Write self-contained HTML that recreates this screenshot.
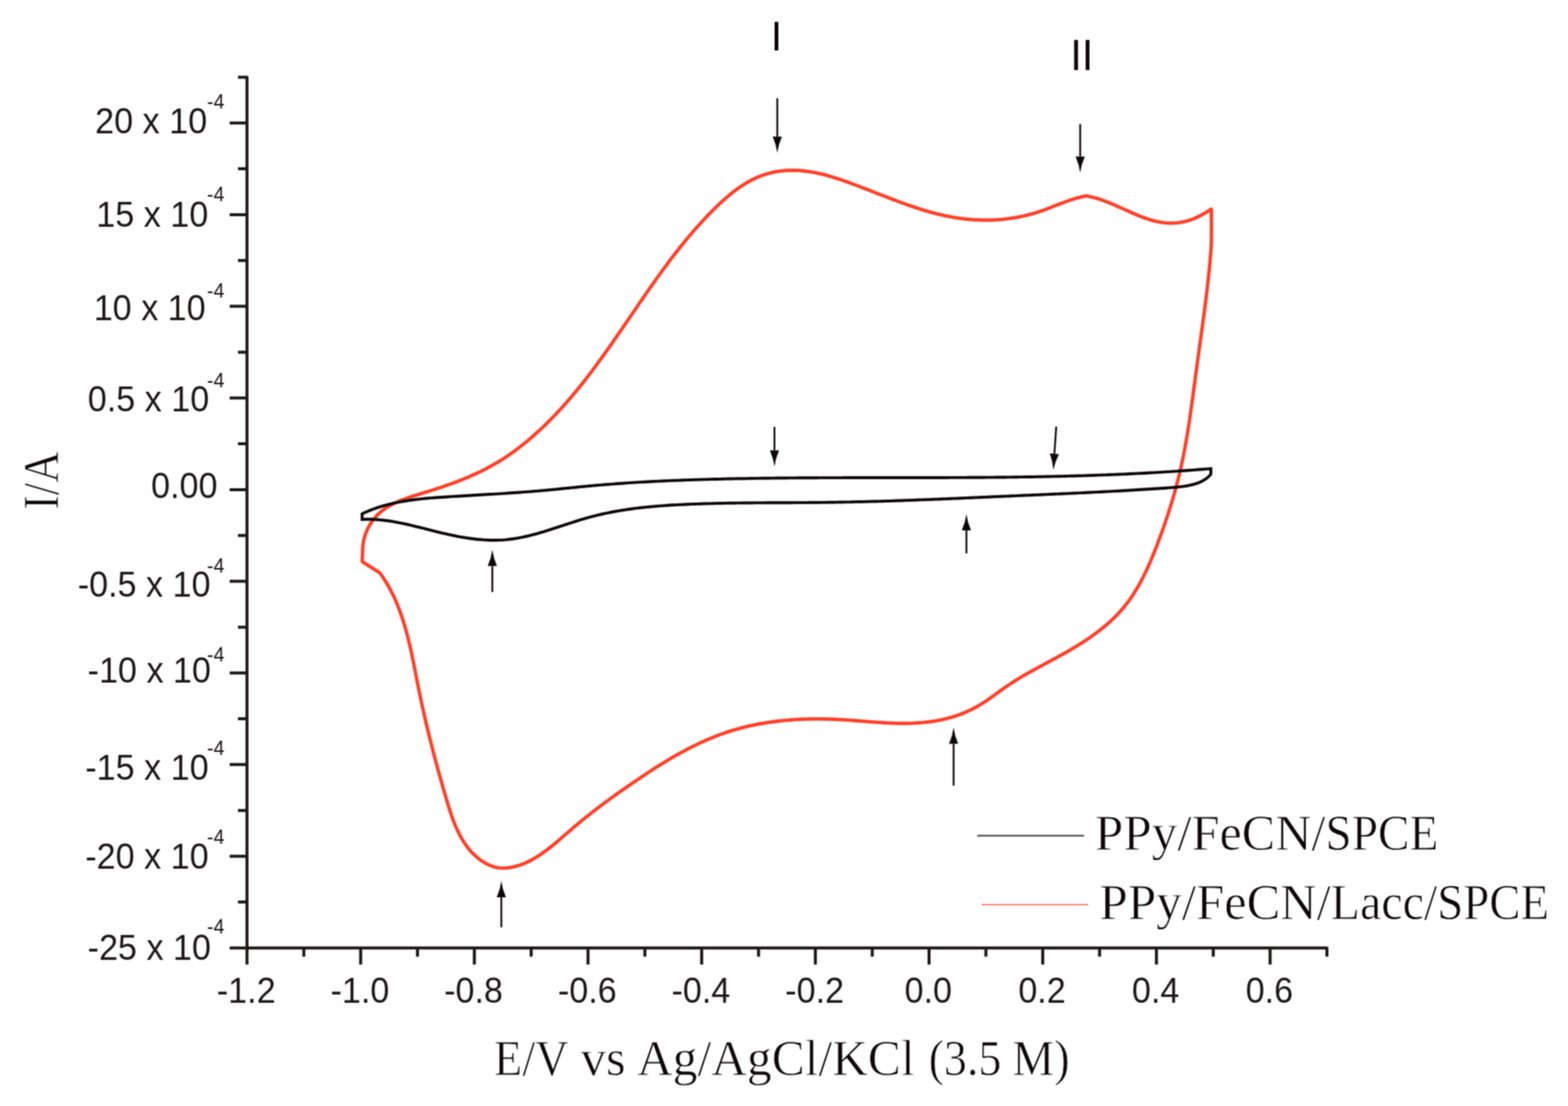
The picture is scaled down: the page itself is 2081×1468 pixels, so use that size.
<!DOCTYPE html>
<html lang="en">
<head>
<meta charset="utf-8">
<title>Cyclic voltammograms</title>
<style>
html,body{margin:0;padding:0;background:#fff;}
body{width:2081px;height:1468px;overflow:hidden;}
svg{display:block;}
</style>
</head>
<body>
<svg width="2081" height="1468" viewBox="0 0 2081 1468">
<defs><filter id="soft" x="0" y="0" width="2081" height="1468" filterUnits="userSpaceOnUse" color-interpolation-filters="sRGB"><feConvolveMatrix order="3" kernelMatrix="1 2 1 2 4 2 1 2 1" divisor="16" edgeMode="duplicate" preserveAlpha="true"/></filter></defs>
<rect x="0" y="0" width="2081" height="1468" fill="#ffffff"/>
<g filter="url(#soft)">
<rect x="0" y="0" width="2081" height="1468" fill="#ffffff"/>
<path d="M503.70,760.00 L506.07,763.26 L508.35,766.56 L510.55,769.90 L512.67,773.28 L514.71,776.71 L516.67,780.17 L518.56,783.67 L520.38,787.20 L522.13,790.77 L523.81,794.38 L525.42,798.01 L526.98,801.67 L528.48,805.37 L529.91,809.09 L531.30,812.84 L532.63,816.61 L533.91,820.41 L535.14,824.22 L536.33,828.06 L537.47,831.92 L538.57,835.80 L539.64,839.69 L540.67,843.60 L541.66,847.52 L542.63,851.45 L543.56,855.40 L544.47,859.35 L545.36,863.31 L546.22,867.28 L547.07,871.26 L547.89,875.24 L548.71,879.22 L549.51,883.20 L550.30,887.19 L551.08,891.17 L551.86,895.15 L552.64,899.13 L553.41,903.10 L554.19,907.06 L554.97,911.01 L555.76,914.96 L556.56,918.89 L557.37,922.82 L558.19,926.73 L559.01,930.63 L559.85,934.53 L560.70,938.42 L561.55,942.30 L562.42,946.17 L563.29,950.04 L564.18,953.90 L565.07,957.76 L565.98,961.61 L566.89,965.46 L567.81,969.30 L568.75,973.15 L569.69,976.99 L570.64,980.83 L571.60,984.67 L572.58,988.51 L573.56,992.36 L574.55,996.20 L575.55,1000.05 L576.56,1003.89 L577.58,1007.75 L578.61,1011.60 L579.65,1015.46 L580.70,1019.33 L581.76,1023.20 L582.83,1027.08 L583.91,1030.97 L585.00,1034.87 L586.10,1038.77 L587.21,1042.68 L588.33,1046.60 L589.46,1050.54 L590.60,1054.48 L591.75,1058.44 L592.91,1062.40 L594.09,1066.37 L595.30,1070.33 L596.55,1074.28 L597.83,1078.21 L599.15,1082.12 L600.52,1086.00 L601.96,1089.84 L603.45,1093.64 L605.01,1097.40 L606.65,1101.09 L608.37,1104.73 L610.18,1108.30 L612.07,1111.79 L614.07,1115.21 L616.18,1118.54 L618.39,1121.77 L620.72,1124.91 L623.18,1127.95 L625.76,1130.87 L628.49,1133.67 L631.35,1136.35 L634.36,1138.90 L637.52,1141.31 L640.85,1143.58 L644.31,1145.67 L647.90,1147.53 L651.60,1149.14 L655.39,1150.46 L659.26,1151.43 L663.18,1152.04 L667.13,1152.27 L671.10,1152.16 L675.05,1151.77 L678.97,1151.14 L682.82,1150.31 L686.61,1149.30 L690.34,1148.11 L694.01,1146.77 L697.62,1145.27 L701.18,1143.62 L704.70,1141.85 L708.16,1139.94 L711.58,1137.92 L714.96,1135.79 L718.31,1133.56 L721.61,1131.24 L724.89,1128.84 L728.13,1126.37 L731.35,1123.84 L734.55,1121.25 L737.72,1118.62 L740.88,1115.96 L744.02,1113.27 L747.15,1110.56 L750.27,1107.84 L753.38,1105.13 L756.49,1102.43 L759.60,1099.74 L762.71,1097.09 L765.83,1094.46 L768.95,1091.86 L772.07,1089.29 L775.19,1086.75 L778.32,1084.23 L781.46,1081.73 L784.60,1079.26 L787.74,1076.81 L790.90,1074.38 L794.06,1071.96 L797.22,1069.57 L800.39,1067.19 L803.57,1064.83 L806.76,1062.48 L809.96,1060.15 L813.16,1057.83 L816.37,1055.52 L819.59,1053.22 L822.83,1050.93 L826.07,1048.64 L829.32,1046.37 L832.59,1044.09 L835.86,1041.83 L839.15,1039.56 L842.44,1037.30 L845.76,1035.05 L849.08,1032.80 L852.41,1030.56 L855.76,1028.33 L859.12,1026.11 L862.50,1023.90 L865.88,1021.71 L869.28,1019.52 L872.70,1017.36 L876.13,1015.21 L879.57,1013.09 L883.03,1010.98 L886.50,1008.89 L889.99,1006.83 L893.49,1004.79 L897.01,1002.77 L900.54,1000.79 L904.09,998.83 L907.65,996.90 L911.23,995.01 L914.82,993.14 L918.42,991.31 L922.04,989.52 L925.68,987.76 L929.33,986.04 L932.99,984.36 L936.67,982.72 L940.36,981.13 L944.07,979.57 L947.79,978.07 L951.53,976.61 L955.28,975.19 L959.05,973.83 L962.83,972.52 L966.62,971.26 L970.43,970.05 L974.26,968.89 L978.09,967.78 L981.94,966.72 L985.80,965.71 L989.68,964.75 L993.56,963.83 L997.46,962.96 L1001.36,962.14 L1005.28,961.36 L1009.21,960.63 L1013.14,959.94 L1017.08,959.29 L1021.04,958.69 L1025.00,958.13 L1028.96,957.60 L1032.94,957.12 L1036.92,956.68 L1040.90,956.28 L1044.89,955.92 L1048.89,955.60 L1052.89,955.31 L1056.90,955.06 L1060.90,954.85 L1064.92,954.67 L1068.93,954.52 L1072.95,954.41 L1076.97,954.33 L1080.99,954.29 L1085.01,954.28 L1089.03,954.30 L1093.05,954.34 L1097.07,954.42 L1101.09,954.53 L1105.11,954.67 L1109.13,954.84 L1113.14,955.03 L1117.15,955.25 L1121.16,955.49 L1125.17,955.76 L1129.17,956.04 L1133.18,956.34 L1137.18,956.65 L1141.18,956.97 L1145.18,957.29 L1149.18,957.61 L1153.18,957.92 L1157.18,958.23 L1161.18,958.53 L1165.19,958.81 L1169.19,959.08 L1173.20,959.33 L1177.22,959.55 L1181.23,959.74 L1185.25,959.90 L1189.27,960.02 L1193.30,960.10 L1197.33,960.14 L1201.37,960.14 L1205.40,960.09 L1209.43,959.98 L1213.46,959.82 L1217.48,959.61 L1221.50,959.33 L1225.51,958.99 L1229.51,958.58 L1233.50,958.11 L1237.47,957.56 L1241.43,956.93 L1245.38,956.23 L1249.30,955.45 L1253.21,954.58 L1257.10,953.62 L1260.96,952.58 L1264.80,951.44 L1268.61,950.22 L1272.39,948.90 L1276.14,947.49 L1279.86,946.00 L1283.54,944.41 L1287.18,942.74 L1290.78,940.97 L1294.34,939.12 L1297.85,937.18 L1301.32,935.14 L1304.74,933.02 L1308.11,930.82 L1311.44,928.55 L1314.74,926.23 L1318.02,923.87 L1321.29,921.49 L1324.55,919.10 L1327.82,916.73 L1331.10,914.37 L1334.40,912.06 L1337.72,909.79 L1341.07,907.57 L1344.44,905.40 L1347.83,903.26 L1351.25,901.16 L1354.68,899.10 L1358.13,897.07 L1361.59,895.06 L1365.07,893.08 L1368.56,891.12 L1372.06,889.18 L1375.57,887.25 L1379.08,885.34 L1382.61,883.43 L1386.13,881.53 L1389.66,879.63 L1393.19,877.74 L1396.72,875.83 L1400.25,873.92 L1403.78,872.00 L1407.30,870.07 L1410.81,868.12 L1414.31,866.15 L1417.81,864.16 L1421.29,862.14 L1424.76,860.10 L1428.22,858.02 L1431.66,855.90 L1435.08,853.75 L1438.47,851.57 L1441.84,849.34 L1445.19,847.08 L1448.50,844.78 L1451.78,842.43 L1455.03,840.04 L1458.24,837.61 L1461.40,835.13 L1464.52,832.61 L1467.60,830.04 L1470.62,827.42 L1473.60,824.75 L1476.51,822.03 L1479.38,819.25 L1482.18,816.42 L1484.92,813.54 L1487.59,810.60 L1490.19,807.60 L1492.73,804.55 L1495.19,801.43 L1497.58,798.26 L1499.90,795.04 L1502.16,791.76 L1504.36,788.44 L1506.49,785.06 L1508.57,781.65 L1510.59,778.19 L1512.55,774.69 L1514.47,771.15 L1516.33,767.59 L1518.15,763.99 L1519.92,760.36 L1521.65,756.70 L1523.35,753.02 L1525.00,749.32 L1526.62,745.59 L1528.20,741.86 L1529.76,738.10 L1531.29,734.34 L1532.79,730.56 L1534.26,726.78 L1535.72,723.00 L1537.16,719.21 L1538.58,715.42 L1539.98,711.63 L1541.37,707.84 L1542.73,704.05 L1544.08,700.26 L1545.41,696.47 L1546.72,692.67 L1548.00,688.87 L1549.27,685.07 L1550.52,681.26 L1551.75,677.46 L1552.96,673.64 L1554.14,669.83 L1555.30,666.01 L1556.45,662.18 L1557.56,658.35 L1558.66,654.51 L1559.73,650.67 L1560.78,646.82 L1561.81,642.97 L1562.81,639.10 L1563.79,635.23 L1564.74,631.36 L1565.67,627.47 L1566.57,623.58 L1567.45,619.68 L1568.30,615.78 L1569.14,611.86 L1569.95,607.94 L1570.74,604.01 L1571.50,600.08 L1572.25,596.14 L1572.98,592.20 L1573.70,588.25 L1574.39,584.29 L1575.07,580.33 L1575.74,576.37 L1576.39,572.40 L1577.02,568.43 L1577.64,564.45 L1578.26,560.48 L1578.86,556.49 L1579.44,552.51 L1580.02,548.52 L1580.59,544.53 L1581.16,540.54 L1581.71,536.55 L1582.26,532.56 L1582.80,528.56 L1583.34,524.57 L1583.87,520.57 L1584.40,516.57 L1584.93,512.58 L1585.46,508.58 L1585.98,504.59 L1586.51,500.60 L1587.04,496.60 L1587.57,492.61 L1588.10,488.62 L1588.63,484.64 L1589.17,480.65 L1589.71,476.67 L1590.25,472.69 L1590.80,468.71 L1591.35,464.74 L1591.90,460.76 L1592.45,456.79 L1593.00,452.82 L1593.55,448.85 L1594.10,444.88 L1594.65,440.91 L1595.20,436.94 L1595.74,432.97 L1596.28,429.01 L1596.82,425.04 L1597.36,421.07 L1597.89,417.10 L1598.41,413.13 L1598.93,409.16 L1599.44,405.19 L1599.95,401.22 L1600.45,397.24 L1600.94,393.27 L1601.42,389.29 L1601.90,385.31 L1602.36,381.33 L1602.82,377.35 L1603.26,373.37 L1603.70,369.38 L1604.12,365.39 L1604.53,361.40 L1604.93,357.40 L1605.31,353.40 L1605.69,349.40 L1606.04,345.39 L1606.39,341.38 L1606.71,337.37 L1607.03,333.35 L1607.32,329.33 L1607.60,325.30 L1607.8,300 L1607.6,277.5 L1604.16,279.80 L1600.64,282.01 L1597.04,284.11 L1593.39,286.09 L1589.66,287.93 L1585.89,289.62 L1582.05,291.14 L1578.18,292.49 L1574.26,293.63 L1570.30,294.57 L1566.31,295.28 L1562.29,295.77 L1558.25,296.05 L1554.21,296.12 L1550.16,295.99 L1546.12,295.68 L1542.10,295.18 L1538.10,294.51 L1534.12,293.69 L1530.18,292.71 L1526.26,291.60 L1522.36,290.36 L1518.48,289.02 L1514.63,287.59 L1510.78,286.07 L1506.95,284.48 L1503.14,282.84 L1499.33,281.16 L1495.52,279.45 L1491.72,277.72 L1487.92,276.00 L1484.12,274.29 L1480.31,272.60 L1476.50,270.95 L1472.68,269.36 L1468.85,267.83 L1465.00,266.38 L1461.14,265.02 L1457.26,263.77 L1453.36,262.64 L1449.43,261.64 L1445.48,260.79 L1441.50,260.10 L1437.55,260.84 L1433.64,261.72 L1429.75,262.73 L1425.90,263.84 L1422.08,265.04 L1418.27,266.33 L1414.49,267.68 L1410.72,269.08 L1406.95,270.52 L1403.20,271.98 L1399.45,273.46 L1395.70,274.93 L1391.94,276.38 L1388.18,277.79 L1384.40,279.16 L1380.61,280.47 L1376.80,281.71 L1372.98,282.89 L1369.14,283.99 L1365.28,285.02 L1361.40,285.98 L1357.52,286.88 L1353.61,287.70 L1349.70,288.45 L1345.77,289.14 L1341.82,289.75 L1337.87,290.30 L1333.90,290.77 L1329.92,291.18 L1325.94,291.51 L1321.94,291.78 L1317.93,291.97 L1313.91,292.10 L1309.88,292.15 L1305.85,292.14 L1301.82,292.06 L1297.79,291.92 L1293.75,291.71 L1289.72,291.44 L1285.69,291.10 L1281.67,290.70 L1277.65,290.24 L1273.64,289.72 L1269.65,289.14 L1265.66,288.50 L1261.69,287.81 L1257.73,287.05 L1253.79,286.24 L1249.87,285.37 L1245.96,284.46 L1242.07,283.49 L1238.20,282.48 L1234.34,281.42 L1230.49,280.32 L1226.66,279.18 L1222.84,278.00 L1219.03,276.79 L1215.22,275.55 L1211.43,274.27 L1207.65,272.97 L1203.88,271.65 L1200.11,270.30 L1196.35,268.93 L1192.59,267.55 L1188.84,266.15 L1185.10,264.73 L1181.35,263.31 L1177.61,261.87 L1173.87,260.43 L1170.13,258.98 L1166.40,257.53 L1162.66,256.07 L1158.92,254.61 L1155.17,253.15 L1151.43,251.70 L1147.68,250.25 L1143.92,248.81 L1140.16,247.38 L1136.39,245.95 L1132.62,244.54 L1128.83,243.14 L1125.04,241.77 L1121.24,240.41 L1117.43,239.08 L1113.61,237.79 L1109.77,236.54 L1105.93,235.33 L1102.07,234.18 L1098.20,233.08 L1094.31,232.04 L1090.41,231.06 L1086.50,230.16 L1082.57,229.33 L1078.62,228.58 L1074.65,227.92 L1070.67,227.36 L1066.67,226.89 L1062.65,226.52 L1058.62,226.26 L1054.59,226.11 L1050.55,226.08 L1046.52,226.16 L1042.51,226.37 L1038.50,226.71 L1034.52,227.18 L1030.56,227.79 L1026.64,228.53 L1022.75,229.43 L1018.90,230.46 L1015.09,231.63 L1011.33,232.94 L1007.62,234.37 L1003.95,235.93 L1000.34,237.61 L996.79,239.39 L993.29,241.29 L989.84,243.29 L986.45,245.39 L983.11,247.58 L979.81,249.85 L976.57,252.21 L973.37,254.64 L970.21,257.13 L967.10,259.70 L964.02,262.32 L960.98,264.99 L957.98,267.71 L955.01,270.47 L952.07,273.26 L949.17,276.09 L946.29,278.94 L943.44,281.81 L940.61,284.70 L937.82,287.61 L935.04,290.54 L932.30,293.49 L929.57,296.46 L926.87,299.44 L924.19,302.45 L921.54,305.47 L918.90,308.51 L916.29,311.56 L913.70,314.63 L911.13,317.71 L908.57,320.81 L906.04,323.93 L903.52,327.05 L901.02,330.20 L898.54,333.35 L896.07,336.52 L893.62,339.69 L891.18,342.88 L888.76,346.08 L886.35,349.29 L883.96,352.52 L881.57,355.75 L879.20,358.99 L876.84,362.23 L874.49,365.49 L872.15,368.75 L869.82,372.03 L867.50,375.30 L865.19,378.59 L862.89,381.88 L860.59,385.17 L858.29,388.47 L856.01,391.78 L853.73,395.09 L851.45,398.40 L849.18,401.71 L846.91,405.03 L844.64,408.35 L842.38,411.67 L840.11,414.99 L837.85,418.31 L835.59,421.63 L833.33,424.95 L831.06,428.28 L828.80,431.59 L826.53,434.91 L824.26,438.23 L821.98,441.54 L819.71,444.85 L817.42,448.15 L815.14,451.46 L812.84,454.75 L810.54,458.04 L808.23,461.33 L805.92,464.61 L803.60,467.88 L801.26,471.15 L798.92,474.41 L796.57,477.66 L794.21,480.90 L791.83,484.13 L789.44,487.35 L787.05,490.57 L784.63,493.77 L782.21,496.96 L779.77,500.14 L777.31,503.31 L774.84,506.47 L772.35,509.61 L769.85,512.74 L767.32,515.86 L764.78,518.96 L762.23,522.05 L759.65,525.13 L757.05,528.18 L754.43,531.23 L751.79,534.25 L749.13,537.26 L746.44,540.25 L743.74,543.22 L741.01,546.18 L738.25,549.11 L735.47,552.03 L732.66,554.92 L729.83,557.80 L726.97,560.65 L724.09,563.49 L721.18,566.29 L718.24,569.08 L715.27,571.84 L712.28,574.57 L709.26,577.27 L706.22,579.94 L703.15,582.58 L700.05,585.18 L696.93,587.75 L693.78,590.28 L690.61,592.78 L687.41,595.24 L684.18,597.65 L680.93,600.02 L677.66,602.35 L674.36,604.64 L671.03,606.88 L667.68,609.07 L664.30,611.21 L660.90,613.30 L657.47,615.34 L654.02,617.32 L650.54,619.25 L647.04,621.14 L643.52,622.97 L639.97,624.76 L636.40,626.50 L632.81,628.20 L629.20,629.85 L625.57,631.47 L621.91,633.05 L618.24,634.59 L614.54,636.10 L610.83,637.57 L607.10,639.02 L603.35,640.43 L599.58,641.81 L595.80,643.17 L592.00,644.51 L588.18,645.82 L584.35,647.11 L580.50,648.39 L576.64,649.64 L572.76,650.88 L568.87,652.11 L564.96,653.32 L561.05,654.52 L557.12,655.72 L553.20,656.93 L549.29,658.16 L545.40,659.42 L541.54,660.72 L537.72,662.07 L533.94,663.49 L530.22,664.98 L526.57,666.56 L522.99,668.23 L519.49,670.02 L516.09,671.93 L512.79,673.96 L509.60,676.14 L506.53,678.48 L503.59,680.98 L500.79,683.65 L498.13,686.51 L495.63,689.53 L493.30,692.71 L491.14,696.05 L489.17,699.53 L487.39,703.13 L485.82,706.86 L484.46,710.70 L483.33,714.63 L482.42,718.66 L481.76,722.78 L481.35,726.96 L481.20,731.20 L480.80,745.50 L503.70,760.00 Z" fill="none" stroke="#ff4029" stroke-width="4.6" stroke-linejoin="round" stroke-linecap="butt"/>
<path d="M480.60,682.00 L484.27,680.29 L487.96,678.68 L491.68,677.16 L495.42,675.73 L499.19,674.39 L502.98,673.13 L506.78,671.95 L510.61,670.85 L514.46,669.82 L518.32,668.86 L522.21,667.97 L526.10,667.13 L530.01,666.36 L533.94,665.64 L537.88,664.98 L541.83,664.36 L545.79,663.79 L549.77,663.26 L553.75,662.78 L557.74,662.33 L561.74,661.91 L565.75,661.53 L569.76,661.17 L573.78,660.84 L577.80,660.53 L581.82,660.23 L585.85,659.95 L589.88,659.69 L593.91,659.43 L597.95,659.17 L601.98,658.92 L606.01,658.68 L610.04,658.43 L614.07,658.19 L618.10,657.96 L622.13,657.72 L626.16,657.49 L630.19,657.25 L634.22,657.02 L638.24,656.78 L642.27,656.55 L646.30,656.31 L650.33,656.07 L654.35,655.83 L658.38,655.59 L662.40,655.34 L666.42,655.09 L670.45,654.83 L674.47,654.57 L678.49,654.31 L682.51,654.04 L686.53,653.76 L690.55,653.47 L694.56,653.18 L698.58,652.88 L702.59,652.57 L706.61,652.25 L710.62,651.93 L714.63,651.59 L718.64,651.24 L722.65,650.88 L726.66,650.52 L730.66,650.14 L734.67,649.75 L738.67,649.36 L742.67,648.96 L746.68,648.56 L750.68,648.16 L754.68,647.76 L758.68,647.35 L762.68,646.95 L766.69,646.55 L770.69,646.15 L774.69,645.76 L778.69,645.38 L782.70,645.00 L786.70,644.64 L790.71,644.28 L794.71,643.93 L798.72,643.59 L802.72,643.26 L806.73,642.94 L810.74,642.62 L814.75,642.32 L818.76,642.02 L822.77,641.73 L826.78,641.45 L830.79,641.17 L834.80,640.91 L838.82,640.65 L842.83,640.40 L846.84,640.15 L850.86,639.92 L854.87,639.69 L858.89,639.46 L862.90,639.25 L866.92,639.04 L870.93,638.83 L874.95,638.64 L878.97,638.45 L882.99,638.26 L887.00,638.08 L891.02,637.91 L895.04,637.74 L899.06,637.58 L903.08,637.43 L907.10,637.28 L911.12,637.13 L915.14,636.99 L919.16,636.86 L923.18,636.72 L927.20,636.60 L931.23,636.48 L935.25,636.36 L939.27,636.25 L943.29,636.14 L947.31,636.03 L951.34,635.93 L955.36,635.84 L959.38,635.74 L963.40,635.65 L967.43,635.56 L971.45,635.48 L975.47,635.40 L979.50,635.32 L983.52,635.25 L987.54,635.18 L991.57,635.11 L995.59,635.04 L999.61,634.98 L1003.64,634.92 L1007.66,634.86 L1011.68,634.81 L1015.71,634.75 L1019.73,634.70 L1023.76,634.66 L1027.78,634.61 L1031.81,634.57 L1035.83,634.53 L1039.85,634.49 L1043.88,634.45 L1047.90,634.42 L1051.93,634.38 L1055.95,634.35 L1059.98,634.32 L1064.00,634.30 L1068.02,634.27 L1072.05,634.25 L1076.07,634.23 L1080.10,634.21 L1084.12,634.19 L1088.15,634.17 L1092.17,634.15 L1096.20,634.14 L1100.22,634.12 L1104.25,634.11 L1108.27,634.10 L1112.30,634.09 L1116.32,634.08 L1120.35,634.07 L1124.37,634.06 L1128.40,634.06 L1132.42,634.05 L1136.45,634.05 L1140.47,634.04 L1144.50,634.04 L1148.52,634.04 L1152.55,634.03 L1156.57,634.03 L1160.60,634.03 L1164.62,634.03 L1168.65,634.02 L1172.67,634.02 L1176.70,634.02 L1180.72,634.02 L1184.75,634.02 L1188.77,634.02 L1192.80,634.02 L1196.82,634.02 L1200.85,634.01 L1204.88,634.01 L1208.90,634.01 L1212.93,634.01 L1216.95,634.00 L1220.98,634.00 L1225.00,633.99 L1229.03,633.99 L1233.05,633.98 L1237.07,633.98 L1241.10,633.97 L1245.12,633.96 L1249.15,633.95 L1253.17,633.94 L1257.20,633.93 L1261.22,633.92 L1265.25,633.90 L1269.27,633.89 L1273.30,633.87 L1277.32,633.85 L1281.35,633.83 L1285.37,633.81 L1289.39,633.79 L1293.42,633.77 L1297.44,633.74 L1301.47,633.71 L1305.49,633.69 L1309.52,633.65 L1313.54,633.62 L1317.56,633.59 L1321.59,633.55 L1325.61,633.51 L1329.63,633.47 L1333.66,633.43 L1337.68,633.38 L1341.71,633.33 L1345.73,633.28 L1349.75,633.23 L1353.78,633.17 L1357.80,633.12 L1361.82,633.06 L1365.84,632.99 L1369.87,632.93 L1373.89,632.86 L1377.91,632.79 L1381.94,632.71 L1385.96,632.63 L1389.98,632.55 L1394.00,632.47 L1398.03,632.38 L1402.05,632.29 L1406.07,632.20 L1410.09,632.10 L1414.11,632.00 L1418.13,631.90 L1422.16,631.79 L1426.18,631.68 L1430.20,631.57 L1434.22,631.45 L1438.24,631.33 L1442.26,631.20 L1446.28,631.07 L1450.30,630.94 L1454.33,630.80 L1458.35,630.66 L1462.37,630.51 L1466.39,630.36 L1470.41,630.21 L1474.43,630.05 L1478.45,629.88 L1482.47,629.72 L1486.49,629.54 L1490.51,629.37 L1494.52,629.19 L1498.54,629.00 L1502.56,628.81 L1506.58,628.62 L1510.60,628.42 L1514.62,628.21 L1518.64,628.00 L1522.66,627.78 L1526.67,627.56 L1530.69,627.34 L1534.71,627.11 L1538.73,626.87 L1542.74,626.63 L1546.76,626.39 L1550.78,626.13 L1554.80,625.88 L1558.81,625.61 L1562.83,625.34 L1566.85,625.07 L1570.86,624.79 L1574.88,624.50 L1578.89,624.21 L1582.91,623.91 L1586.93,623.61 L1590.94,623.30 L1594.96,622.98 L1598.97,622.66 L1602.99,622.33 L1607.00,622.00 L1607,629.5 L1604.24,632.45 L1601.24,634.99 L1598.03,637.17 L1594.64,639.02 L1591.10,640.59 L1587.43,641.90 L1583.66,643.00 L1579.82,643.93 L1575.92,644.71 L1571.99,645.36 L1568.02,645.91 L1564.03,646.37 L1560.01,646.76 L1555.98,647.10 L1551.94,647.40 L1547.90,647.69 L1543.86,647.97 L1539.82,648.25 L1535.79,648.52 L1531.75,648.79 L1527.72,649.05 L1523.69,649.31 L1519.66,649.57 L1515.63,649.82 L1511.61,650.07 L1507.58,650.31 L1503.56,650.55 L1499.54,650.79 L1495.52,651.02 L1491.50,651.25 L1487.48,651.47 L1483.47,651.70 L1479.45,651.91 L1475.44,652.13 L1471.43,652.34 L1467.41,652.55 L1463.40,652.76 L1459.39,652.97 L1455.39,653.17 L1451.38,653.37 L1447.37,653.57 L1443.36,653.76 L1439.36,653.96 L1435.35,654.15 L1431.35,654.34 L1427.35,654.52 L1423.34,654.71 L1419.34,654.90 L1415.34,655.08 L1411.34,655.26 L1407.34,655.44 L1403.33,655.62 L1399.33,655.80 L1395.33,655.98 L1391.33,656.15 L1387.33,656.33 L1383.33,656.51 L1379.33,656.68 L1375.33,656.86 L1371.33,657.03 L1367.33,657.21 L1363.33,657.38 L1359.33,657.56 L1355.32,657.73 L1351.32,657.90 L1347.32,658.08 L1343.32,658.26 L1339.31,658.43 L1335.31,658.61 L1331.30,658.79 L1327.30,658.96 L1323.29,659.14 L1319.29,659.32 L1315.28,659.50 L1311.28,659.68 L1307.27,659.85 L1303.26,660.03 L1299.25,660.21 L1295.25,660.38 L1291.24,660.56 L1287.23,660.74 L1283.22,660.91 L1279.21,661.09 L1275.20,661.26 L1271.19,661.43 L1267.18,661.60 L1263.17,661.77 L1259.16,661.94 L1255.14,662.11 L1251.13,662.28 L1247.12,662.44 L1243.11,662.61 L1239.09,662.77 L1235.08,662.93 L1231.07,663.09 L1227.05,663.25 L1223.04,663.40 L1219.03,663.55 L1215.01,663.71 L1211.00,663.86 L1206.98,664.00 L1202.97,664.15 L1198.95,664.29 L1194.94,664.43 L1190.92,664.56 L1186.91,664.70 L1182.89,664.83 L1178.88,664.96 L1174.86,665.09 L1170.85,665.21 L1166.83,665.33 L1162.81,665.44 L1158.80,665.56 L1154.78,665.67 L1150.76,665.77 L1146.75,665.88 L1142.73,665.98 L1138.72,666.07 L1134.70,666.17 L1130.68,666.25 L1126.67,666.34 L1122.65,666.42 L1118.63,666.49 L1114.62,666.57 L1110.60,666.63 L1106.58,666.70 L1102.57,666.76 L1098.55,666.81 L1094.53,666.86 L1090.52,666.91 L1086.50,666.95 L1082.48,666.99 L1078.47,667.02 L1074.45,667.05 L1070.44,667.08 L1066.42,667.10 L1062.40,667.12 L1058.39,667.14 L1054.37,667.16 L1050.36,667.18 L1046.34,667.20 L1042.33,667.21 L1038.31,667.23 L1034.30,667.24 L1030.28,667.26 L1026.27,667.27 L1022.25,667.29 L1018.24,667.31 L1014.22,667.33 L1010.21,667.35 L1006.19,667.38 L1002.18,667.40 L998.17,667.43 L994.15,667.47 L990.14,667.50 L986.13,667.54 L982.11,667.59 L978.10,667.64 L974.09,667.69 L970.08,667.75 L966.06,667.81 L962.05,667.89 L958.04,667.96 L954.03,668.05 L950.02,668.14 L946.00,668.23 L941.99,668.34 L937.98,668.45 L933.97,668.57 L929.96,668.70 L925.95,668.84 L921.94,668.99 L917.93,669.15 L913.92,669.31 L909.91,669.49 L905.91,669.68 L901.90,669.88 L897.89,670.09 L893.88,670.31 L889.88,670.55 L885.87,670.81 L881.87,671.08 L877.87,671.36 L873.87,671.67 L869.87,672.00 L865.87,672.35 L861.88,672.72 L857.89,673.11 L853.90,673.52 L849.92,673.97 L845.94,674.43 L841.97,674.93 L837.99,675.45 L834.03,676.01 L830.06,676.59 L826.10,677.21 L822.15,677.85 L818.20,678.54 L814.26,679.25 L810.32,680.01 L806.39,680.80 L802.46,681.62 L798.54,682.49 L794.63,683.40 L790.72,684.35 L786.82,685.34 L782.93,686.38 L779.04,687.46 L775.17,688.58 L771.29,689.73 L767.43,690.92 L763.56,692.13 L759.71,693.36 L755.85,694.61 L752.00,695.87 L748.15,697.14 L744.30,698.41 L740.46,699.67 L736.61,700.93 L732.76,702.17 L728.91,703.40 L725.07,704.60 L721.21,705.78 L717.36,706.92 L713.50,708.03 L709.64,709.09 L705.77,710.11 L701.90,711.08 L698.02,711.99 L694.13,712.84 L690.24,713.63 L686.34,714.34 L682.43,714.98 L678.51,715.53 L674.58,716.01 L670.64,716.39 L666.68,716.68 L662.72,716.87 L658.75,716.98 L654.77,717.00 L650.78,716.94 L646.79,716.80 L642.79,716.58 L638.79,716.29 L634.79,715.94 L630.78,715.52 L626.77,715.03 L622.77,714.49 L618.77,713.89 L614.77,713.25 L610.77,712.55 L606.78,711.81 L602.80,711.03 L598.82,710.21 L594.85,709.35 L590.89,708.47 L586.95,707.55 L583.01,706.62 L579.09,705.66 L575.18,704.69 L571.28,703.70 L567.39,702.71 L563.51,701.72 L559.63,700.73 L555.76,699.75 L551.89,698.78 L548.01,697.84 L544.14,696.91 L540.27,696.02 L536.38,695.16 L532.50,694.33 L528.60,693.55 L524.70,692.82 L520.78,692.15 L516.85,691.53 L512.90,690.97 L508.94,690.48 L504.96,690.07 L500.96,689.73 L496.94,689.48 L492.89,689.32 L488.82,689.24 L484.73,689.27 L480.60,689.40 Z" fill="none" stroke="#0c0608" stroke-width="3.9" stroke-linejoin="miter" stroke-miterlimit="2" stroke-linecap="butt"/>
<path d="M315.80,102.48 L327.80,102.48 L327.80,1280.15 M304.80,1258.15 L1761.06,1258.15 L1761.06,1269.65 M304.80,163.30 L327.80,163.30 M315.80,224.12 L327.80,224.12 M304.80,284.95 L327.80,284.95 M315.80,345.78 L327.80,345.78 M304.80,406.60 L327.80,406.60 M315.80,467.43 L327.80,467.43 M304.80,528.25 L327.80,528.25 M315.80,589.08 L327.80,589.08 M304.80,649.90 L327.80,649.90 M315.80,710.73 L327.80,710.73 M304.80,771.55 L327.80,771.55 M315.80,832.38 L327.80,832.38 M304.80,893.20 L327.80,893.20 M315.80,954.03 L327.80,954.03 M304.80,1014.85 L327.80,1014.85 M315.80,1075.67 L327.80,1075.67 M304.80,1136.50 L327.80,1136.50 M315.80,1197.33 L327.80,1197.33 M403.24,1258.15 L403.24,1269.65 M478.67,1258.15 L478.67,1280.15 M554.11,1258.15 L554.11,1269.65 M629.54,1258.15 L629.54,1280.15 M704.98,1258.15 L704.98,1269.65 M780.41,1258.15 L780.41,1280.15 M855.85,1258.15 L855.85,1269.65 M931.28,1258.15 L931.28,1280.15 M1006.72,1258.15 L1006.72,1269.65 M1082.15,1258.15 L1082.15,1280.15 M1157.59,1258.15 L1157.59,1269.65 M1233.02,1258.15 L1233.02,1280.15 M1308.46,1258.15 L1308.46,1269.65 M1383.89,1258.15 L1383.89,1280.15 M1459.33,1258.15 L1459.33,1269.65 M1534.76,1258.15 L1534.76,1280.15 M1610.20,1258.15 L1610.20,1269.65 M1685.63,1258.15 L1685.63,1280.15" fill="none" stroke="#1d1718" stroke-width="4.0" stroke-linejoin="round" stroke-linecap="butt"/>
<path d="M1031.60,130.40 L1031.60,181.20" stroke="#0c0608" stroke-width="2.4" fill="none"/>
<path d="M1031.60,202.70 Q1030.14,191.95 1025.50,181.20 L1037.70,181.20 Q1033.06,191.95 1031.60,202.70 Z" fill="#0c0608"/>
<path d="M1433.60,164.70 L1433.60,207.70" stroke="#0c0608" stroke-width="2.4" fill="none"/>
<path d="M1433.60,229.20 Q1432.14,218.45 1427.50,207.70 L1439.70,207.70 Q1435.06,218.45 1433.60,229.20 Z" fill="#0c0608"/>
<path d="M1027.85,566.50 L1027.85,597.70" stroke="#0c0608" stroke-width="2.4" fill="none"/>
<path d="M1027.85,619.20 Q1026.39,608.45 1021.75,597.70 L1033.95,597.70 Q1029.31,608.45 1027.85,619.20 Z" fill="#0c0608"/>
<path d="M1401.80,566.20 L1399.37,602.25" stroke="#0c0608" stroke-width="2.4" fill="none"/>
<path d="M1397.92,623.70 Q1397.18,612.87 1393.28,601.83 L1405.45,602.66 Q1400.10,613.07 1397.92,623.70 Z" fill="#0c0608"/>
<path d="M1282.60,734.55 L1282.60,704.05" stroke="#0c0608" stroke-width="2.4" fill="none"/>
<path d="M1282.60,682.55 Q1284.06,693.30 1288.70,704.05 L1276.50,704.05 Q1281.14,693.30 1282.60,682.55 Z" fill="#0c0608"/>
<path d="M653.40,785.80 L653.40,751.30" stroke="#0c0608" stroke-width="2.4" fill="none"/>
<path d="M653.40,729.80 Q654.86,740.55 659.50,751.30 L647.30,751.30 Q651.94,740.55 653.40,729.80 Z" fill="#0c0608"/>
<path d="M1265.60,1042.80 L1265.60,987.30" stroke="#0c0608" stroke-width="2.4" fill="none"/>
<path d="M1265.60,965.80 Q1267.06,976.55 1271.70,987.30 L1259.50,987.30 Q1264.14,976.55 1265.60,965.80 Z" fill="#0c0608"/>
<path d="M665.35,1230.80 L665.35,1191.10" stroke="#0c0608" stroke-width="2.4" fill="none"/>
<path d="M665.35,1169.60 Q666.81,1180.35 671.45,1191.10 L659.25,1191.10 Q663.89,1180.35 665.35,1169.60 Z" fill="#0c0608"/>
<path d="M1297,1109.25 L1438.75,1109.25" stroke="#3a3537" stroke-width="2" fill="none"/>
<path d="M1303,1200.75 L1444.25,1200.75" stroke="#fb5a4a" stroke-width="1.6" fill="none"/>
<text transform="translate(274.91,177.45) scale(1,1.045)" font-family="'Liberation Sans', Arial, Helvetica, sans-serif" font-size="45.3" fill="#1d1718" text-anchor="end" xml:space="preserve">20 x 10</text>
<text transform="translate(297.70,144.10) scale(1,1.045)" font-family="'Liberation Sans', Arial, Helvetica, sans-serif" font-size="25.7" fill="#1d1718" text-anchor="end">-4</text>
<text transform="translate(276.41,300.80) scale(1,1.045)" font-family="'Liberation Sans', Arial, Helvetica, sans-serif" font-size="45.3" fill="#1d1718" text-anchor="end" xml:space="preserve">15 x 10</text>
<text transform="translate(297.70,267.10) scale(1,1.045)" font-family="'Liberation Sans', Arial, Helvetica, sans-serif" font-size="25.7" fill="#1d1718" text-anchor="end">-4</text>
<text transform="translate(273.01,424.80) scale(1,1.045)" font-family="'Liberation Sans', Arial, Helvetica, sans-serif" font-size="45.3" fill="#1d1718" text-anchor="end" xml:space="preserve">10 x 10</text>
<text transform="translate(297.70,395.00) scale(1,1.045)" font-family="'Liberation Sans', Arial, Helvetica, sans-serif" font-size="25.7" fill="#1d1718" text-anchor="end">-4</text>
<text transform="translate(277.71,546.00) scale(1,1.045)" font-family="'Liberation Sans', Arial, Helvetica, sans-serif" font-size="45.3" fill="#1d1718" text-anchor="end" xml:space="preserve">0.5 x 10</text>
<text transform="translate(297.70,514.10) scale(1,1.045)" font-family="'Liberation Sans', Arial, Helvetica, sans-serif" font-size="25.7" fill="#1d1718" text-anchor="end">-4</text>
<text transform="translate(288.61,660.60) scale(1,1.045)" font-family="'Liberation Sans', Arial, Helvetica, sans-serif" font-size="45.3" fill="#1d1718" text-anchor="end" xml:space="preserve">0.00</text>
<text transform="translate(279.41,791.50) scale(1,1.045)" font-family="'Liberation Sans', Arial, Helvetica, sans-serif" font-size="45.3" fill="#1d1718" text-anchor="end" xml:space="preserve">-0.5 x 10</text>
<text transform="translate(297.70,760.10) scale(1,1.045)" font-family="'Liberation Sans', Arial, Helvetica, sans-serif" font-size="25.7" fill="#1d1718" text-anchor="end">-4</text>
<text transform="translate(280.01,905.90) scale(1,1.045)" font-family="'Liberation Sans', Arial, Helvetica, sans-serif" font-size="45.3" fill="#1d1718" text-anchor="end" xml:space="preserve">-10 x 10</text>
<text transform="translate(297.70,878.00) scale(1,1.045)" font-family="'Liberation Sans', Arial, Helvetica, sans-serif" font-size="25.7" fill="#1d1718" text-anchor="end">-4</text>
<text transform="translate(276.91,1035.00) scale(1,1.045)" font-family="'Liberation Sans', Arial, Helvetica, sans-serif" font-size="45.3" fill="#1d1718" text-anchor="end" xml:space="preserve">-15 x 10</text>
<text transform="translate(297.70,1001.50) scale(1,1.045)" font-family="'Liberation Sans', Arial, Helvetica, sans-serif" font-size="25.7" fill="#1d1718" text-anchor="end">-4</text>
<text transform="translate(276.91,1153.40) scale(1,1.045)" font-family="'Liberation Sans', Arial, Helvetica, sans-serif" font-size="45.3" fill="#1d1718" text-anchor="end" xml:space="preserve">-20 x 10</text>
<text transform="translate(297.70,1119.70) scale(1,1.045)" font-family="'Liberation Sans', Arial, Helvetica, sans-serif" font-size="25.7" fill="#1d1718" text-anchor="end">-4</text>
<text transform="translate(280.01,1274.40) scale(1,1.045)" font-family="'Liberation Sans', Arial, Helvetica, sans-serif" font-size="45.3" fill="#1d1718" text-anchor="end" xml:space="preserve">-25 x 10</text>
<text transform="translate(297.70,1238.80) scale(1,1.045)" font-family="'Liberation Sans', Arial, Helvetica, sans-serif" font-size="25.7" fill="#1d1718" text-anchor="end">-4</text>
<text transform="translate(326.80,1331) scale(1,1.045)" font-family="'Liberation Sans', Arial, Helvetica, sans-serif" font-size="45.3" fill="#1d1718" text-anchor="middle">-1.2</text>
<text transform="translate(477.67,1331) scale(1,1.045)" font-family="'Liberation Sans', Arial, Helvetica, sans-serif" font-size="45.3" fill="#1d1718" text-anchor="middle">-1.0</text>
<text transform="translate(628.54,1331) scale(1,1.045)" font-family="'Liberation Sans', Arial, Helvetica, sans-serif" font-size="45.3" fill="#1d1718" text-anchor="middle">-0.8</text>
<text transform="translate(779.41,1331) scale(1,1.045)" font-family="'Liberation Sans', Arial, Helvetica, sans-serif" font-size="45.3" fill="#1d1718" text-anchor="middle">-0.6</text>
<text transform="translate(930.28,1331) scale(1,1.045)" font-family="'Liberation Sans', Arial, Helvetica, sans-serif" font-size="45.3" fill="#1d1718" text-anchor="middle">-0.4</text>
<text transform="translate(1081.15,1331) scale(1,1.045)" font-family="'Liberation Sans', Arial, Helvetica, sans-serif" font-size="45.3" fill="#1d1718" text-anchor="middle">-0.2</text>
<text transform="translate(1232.02,1331) scale(1,1.045)" font-family="'Liberation Sans', Arial, Helvetica, sans-serif" font-size="45.3" fill="#1d1718" text-anchor="middle">0.0</text>
<text transform="translate(1382.89,1331) scale(1,1.045)" font-family="'Liberation Sans', Arial, Helvetica, sans-serif" font-size="45.3" fill="#1d1718" text-anchor="middle">0.2</text>
<text transform="translate(1533.76,1331) scale(1,1.045)" font-family="'Liberation Sans', Arial, Helvetica, sans-serif" font-size="45.3" fill="#1d1718" text-anchor="middle">0.4</text>
<text transform="translate(1684.63,1331) scale(1,1.045)" font-family="'Liberation Sans', Arial, Helvetica, sans-serif" font-size="45.3" fill="#1d1718" text-anchor="middle">0.6</text>
<text transform="translate(1030.6,66.5) scale(1,1.045)" font-family="'Liberation Sans', Arial, Helvetica, sans-serif" font-size="54" fill="#0c0608" text-anchor="middle">I</text>
<text transform="translate(1435.7,92.8) scale(1,1.045)" font-family="'Liberation Sans', Arial, Helvetica, sans-serif" font-size="55" fill="#0c0608" text-anchor="middle">II</text>
<text y="1127.90" font-family="'Liberation Serif', 'Times New Roman', serif" font-size="66.8" fill="#0c0608" stroke="#ffffff" stroke-width="0.8" paint-order="fill stroke"><tspan x="1453.00" textLength="128.50" lengthAdjust="spacingAndGlyphs">PPy/</tspan><tspan x="1581.50" textLength="177.50" lengthAdjust="spacingAndGlyphs">FeCN/</tspan><tspan x="1759.00" textLength="150.00" lengthAdjust="spacingAndGlyphs">SPCE</tspan></text>
<text y="1219.90" font-family="'Liberation Serif', 'Times New Roman', serif" font-size="66.8" fill="#0c0608" stroke="#ffffff" stroke-width="0.8" paint-order="fill stroke"><tspan x="1459.00" textLength="128.50" lengthAdjust="spacingAndGlyphs">PPy/</tspan><tspan x="1587.50" textLength="178.50" lengthAdjust="spacingAndGlyphs">FeCN/</tspan><tspan x="1766.00" textLength="141.50" lengthAdjust="spacingAndGlyphs">Lacc/</tspan><tspan x="1907.50" textLength="148.50" lengthAdjust="spacingAndGlyphs">SPCE</tspan></text>
<text y="1427.1" font-family="'Liberation Serif', 'Times New Roman', serif" font-size="66.8" fill="#0c0608" stroke="#ffffff" stroke-width="0.8" paint-order="fill stroke"><tspan x="655.60" textLength="98.00" lengthAdjust="spacingAndGlyphs">E/V</tspan> <tspan x="770.80" textLength="59.50" lengthAdjust="spacingAndGlyphs">vs</tspan> <tspan x="845.40" textLength="368.50" lengthAdjust="spacingAndGlyphs">Ag/AgCl/KCl</tspan> <tspan x="1232.50" textLength="96.50" lengthAdjust="spacingAndGlyphs">(3.5</tspan> <tspan x="1343.80" textLength="76.00" lengthAdjust="spacingAndGlyphs">M)</tspan></text>
<text x="0" y="0" transform="translate(76.9,676.5) rotate(-90)" font-family="'Liberation Serif', 'Times New Roman', serif" font-size="66.8" fill="#0c0608" stroke="#ffffff" stroke-width="0.8" paint-order="fill stroke" textLength="77.5" lengthAdjust="spacingAndGlyphs">I/A</text>
</g>
</svg>
</body>
</html>
